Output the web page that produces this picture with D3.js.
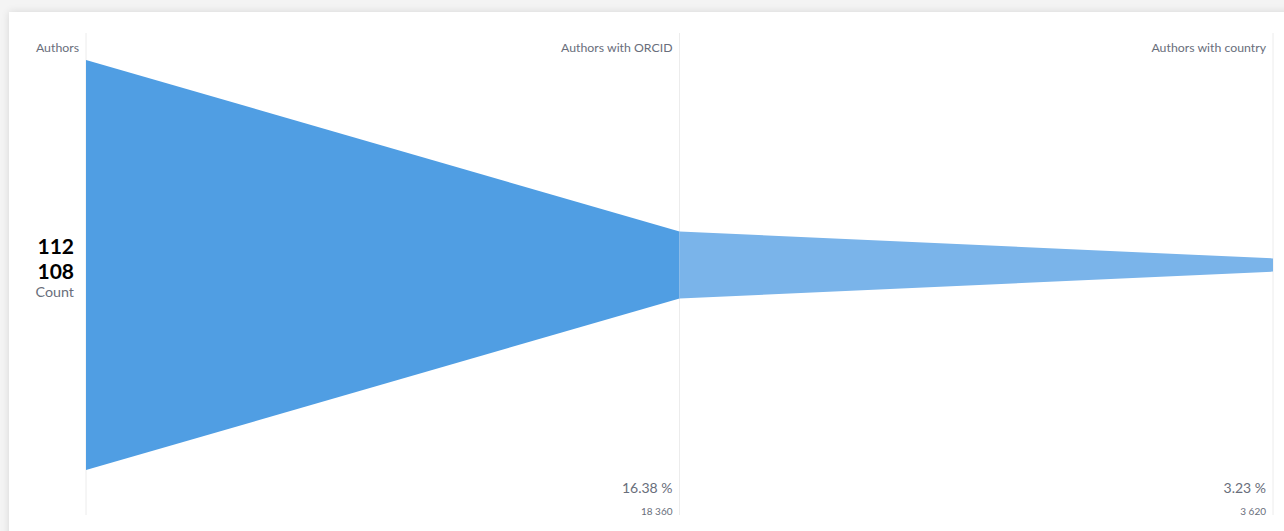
<!DOCTYPE html>
<html><head><meta charset="utf-8">
<script src="https://cdn.jsdelivr.net/npm/d3@7"></script>
<style>
html,body{margin:0;padding:0;background:#f4f4f4;width:1284px;height:531px;overflow:hidden;font-family:Lato,"Noto Sans",sans-serif;}
#card{position:absolute;left:9px;top:12px;width:1300px;height:540px;background:#fff;box-shadow:0 0 8px rgba(0,0,0,0.12);}
svg{position:absolute;left:0;top:0;}
</style></head>
<body>
<div id="card"></div>
<svg id="chart" width="1284" height="531"></svg>
<script>
const steps = ["Authors", "Authors with ORCID", "Authors with country"];
const values = [112108, 18360, 3620];
const measureName = "Count";

const svg = d3.select("#chart");
const x = d3.scalePoint().domain(steps).range([86, 1273]);
const centerY = 265;
const h = d3.scaleLinear().domain([0, d3.max(values)]).range([0, 410]);
const textGray = "#696E7B";
const fmtNum = v => d3.format(",")(v).replace(/,/g, " ");
const fmtPct = v => d3.format(".2f")(v * 100) + " %";

// separator lines
svg.selectAll("line.sep").data(steps).join("line")
  .attr("x1", d => x(d)).attr("x2", d => x(d))
  .attr("y1", 33).attr("y2", 515)
  .attr("stroke", "#ececec").attr("stroke-width", 1);

// funnel segments
const colors = ["#509EE3", "#7AB4EA"];
for (let i = 0; i < steps.length - 1; i++) {
  const x0 = x(steps[i]), x1 = x(steps[i + 1]);
  const h0 = h(values[i]) / 2, h1 = h(values[i + 1]) / 2;
  svg.append("path")
    .attr("d", `M${x0},${centerY - h0}L${x1},${centerY - h1}L${x1},${centerY + h1}L${x0},${centerY + h0}Z`)
    .attr("fill", colors[i]);
}

// step headers
svg.selectAll("text.head").data(steps).join("text")
  .attr("x", d => x(d) - 7).attr("y", 52)
  .attr("text-anchor", "end")
  .attr("font-size", 12.3).attr("fill", textGray)
  .text(d => d);

// first step value
const firstParts = fmtNum(values[0]).split(" ");
firstParts.forEach((p, i) => {
  svg.append("text")
    .attr("x", x(steps[0]) - 12).attr("y", 254 + i * 25)
    .attr("text-anchor", "end")
    .attr("font-size", 21).attr("font-weight", 700).attr("fill", "#000")
    .text(p);
});
svg.append("text")
  .attr("x", x(steps[0]) - 12).attr("y", 297)
  .attr("text-anchor", "end")
  .attr("font-size", 14.3).attr("fill", textGray)
  .text(measureName);

// percentages and counts
steps.slice(1).forEach((s, j) => {
  const v = values[j + 1];
  svg.append("text")
    .attr("x", x(s) - 7).attr("y", 493)
    .attr("text-anchor", "end")
    .attr("font-size", 14).attr("fill", textGray)
    .text(fmtPct(v / values[0]));
  svg.append("text")
    .attr("x", x(s) - 7).attr("y", 515)
    .attr("text-anchor", "end")
    .attr("font-size", 10).attr("fill", textGray)
    .text(fmtNum(v));
});
</script>
</body></html>
